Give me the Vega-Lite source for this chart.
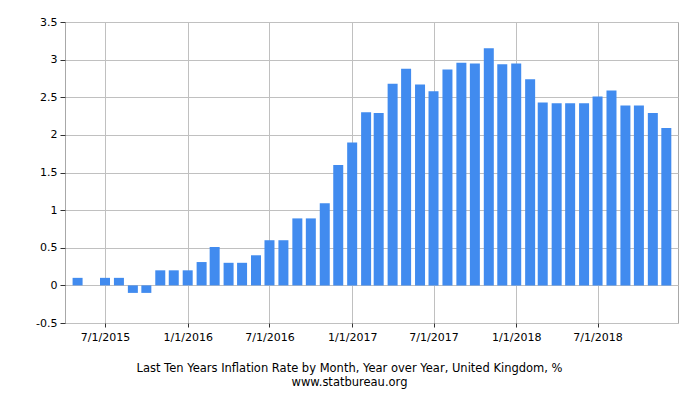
{
  "$schema": "https://vega.github.io/schema/vega-lite/v6.json",
  "width": 613,
  "height": 301,
  "autosize": "none",
  "padding": {"left": 65, "top": 22, "right": 22, "bottom": 77},
  "background": "white",
  "config": {
    "view": {"stroke": "#a8a8a8", "strokeWidth": 1},
    "font": "DejaVu Sans"
  },
  "title": {
    "text": "Last Ten Years Inflation Rate by Month, Year over Year, United Kingdom, %",
    "subtitle": "www.statbureau.org",
    "orient": "bottom",
    "anchor": "middle",
    "dx": -22,
    "offset": 21,
    "font": "DejaVu Sans",
    "fontSize": 11.5,
    "fontWeight": "normal",
    "color": "#000000",
    "subtitleFont": "DejaVu Sans",
    "subtitleFontSize": 11.5,
    "subtitleColor": "#000000",
    "subtitlePadding": 2
  },
  "data": {
    "values": [
      {"month": "2015-05-01", "rate": 0.1},
      {"month": "2015-06-01", "rate": 0.0},
      {"month": "2015-07-01", "rate": 0.1},
      {"month": "2015-08-01", "rate": 0.1},
      {"month": "2015-09-01", "rate": -0.1},
      {"month": "2015-10-01", "rate": -0.1},
      {"month": "2015-11-01", "rate": 0.2},
      {"month": "2015-12-01", "rate": 0.2},
      {"month": "2016-01-01", "rate": 0.2},
      {"month": "2016-02-01", "rate": 0.31},
      {"month": "2016-03-01", "rate": 0.51},
      {"month": "2016-04-01", "rate": 0.3},
      {"month": "2016-05-01", "rate": 0.3},
      {"month": "2016-06-01", "rate": 0.4},
      {"month": "2016-07-01", "rate": 0.6},
      {"month": "2016-08-01", "rate": 0.6},
      {"month": "2016-09-01", "rate": 0.89},
      {"month": "2016-10-01", "rate": 0.89},
      {"month": "2016-11-01", "rate": 1.09},
      {"month": "2016-12-01", "rate": 1.6},
      {"month": "2017-01-01", "rate": 1.9},
      {"month": "2017-02-01", "rate": 2.3},
      {"month": "2017-03-01", "rate": 2.29},
      {"month": "2017-04-01", "rate": 2.68},
      {"month": "2017-05-01", "rate": 2.88},
      {"month": "2017-06-01", "rate": 2.67},
      {"month": "2017-07-01", "rate": 2.58},
      {"month": "2017-08-01", "rate": 2.87},
      {"month": "2017-09-01", "rate": 2.96},
      {"month": "2017-10-01", "rate": 2.95},
      {"month": "2017-11-01", "rate": 3.15},
      {"month": "2017-12-01", "rate": 2.94},
      {"month": "2018-01-01", "rate": 2.95},
      {"month": "2018-02-01", "rate": 2.74},
      {"month": "2018-03-01", "rate": 2.43},
      {"month": "2018-04-01", "rate": 2.42},
      {"month": "2018-05-01", "rate": 2.42},
      {"month": "2018-06-01", "rate": 2.42},
      {"month": "2018-07-01", "rate": 2.51},
      {"month": "2018-08-01", "rate": 2.59},
      {"month": "2018-09-01", "rate": 2.39},
      {"month": "2018-10-01", "rate": 2.39},
      {"month": "2018-11-01", "rate": 2.29},
      {"month": "2018-12-01", "rate": 2.09}
    ]
  },
  "mark": {"type": "bar", "color": "#418bef", "width": 10},
  "encoding": {
    "x": {
      "field": "month",
      "type": "temporal",
      "scale": {
        "type": "utc",
        "domain": [
          {"year": 2015, "month": 4, "date": 3, "utc": true},
          {"year": 2018, "month": 12, "date": 27, "utc": true}
        ],
        "nice": false,
        "padding": 0
      },
      "axis": {
        "title": null,
        "values": [
          {"year": 2015, "month": 7, "date": 1, "utc": true},
          {"year": 2016, "month": 1, "date": 1, "utc": true},
          {"year": 2016, "month": 7, "date": 1, "utc": true},
          {"year": 2017, "month": 1, "date": 1, "utc": true},
          {"year": 2017, "month": 7, "date": 1, "utc": true},
          {"year": 2018, "month": 1, "date": 1, "utc": true},
          {"year": 2018, "month": 7, "date": 1, "utc": true}
        ],
        "labelExpr": "utcFormat(datum.value, '%-m/%-d/%Y')",
        "labelFont": "DejaVu Sans",
        "labelFontSize": 11,
        "labelColor": "#000000",
        "labelPadding": 4,
        "tickColor": "#333333",
        "tickSize": 4,
        "domain": false,
        "grid": true,
        "gridColor": "#c0c0c0",
        "labelFlush": false,
        "labelOverlap": false
      }
    },
    "y": {
      "field": "rate",
      "type": "quantitative",
      "scale": {"domain": [-0.5, 3.5], "nice": false, "zero": false},
      "axis": {
        "title": null,
        "values": [-0.5, 0, 0.5, 1, 1.5, 2, 2.5, 3, 3.5],
        "labelExpr": "datum.value < 0 ? '-' + format(-datum.value, '') : format(datum.value, '')",
        "labelFont": "DejaVu Sans",
        "labelFontSize": 11,
        "labelColor": "#000000",
        "labelPadding": 3,
        "tickColor": "#333333",
        "tickSize": 5,
        "domain": false,
        "grid": true,
        "gridColor": "#c0c0c0"
      }
    }
  }
}
